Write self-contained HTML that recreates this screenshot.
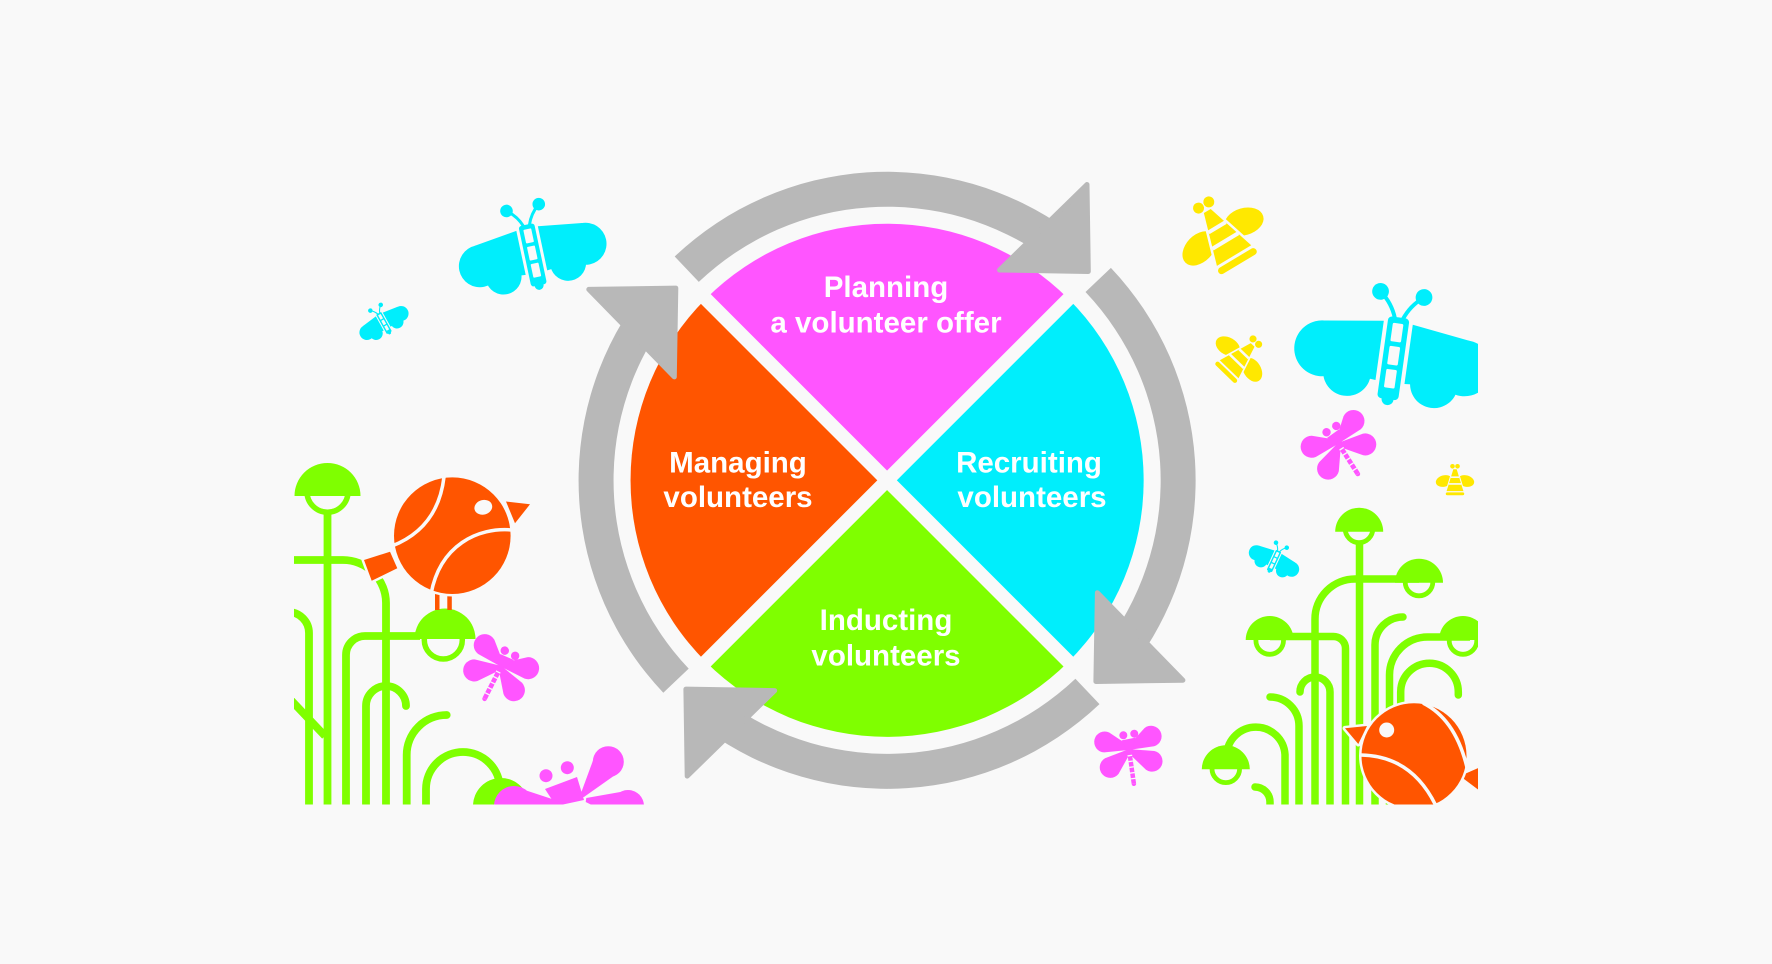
<!DOCTYPE html>
<html><head><meta charset="utf-8">
<style>
html,body{margin:0;padding:0;background:#f9f9f9;}
svg{display:block;}
.t{font-family:"Liberation Sans",Arial,sans-serif;font-weight:700;font-size:29.5px;fill:#ffffff;text-anchor:middle;}
</style></head>
<body>
<svg xmlns="http://www.w3.org/2000/svg" width="1772" height="964" viewBox="0 0 1772 964">
<defs>
<clipPath id="cl"><rect x="294" y="0" width="1184" height="804.5"/></clipPath>

<g id="bf" fill="#00eefc">
<path d="M-11,-27 L-55,-21 L-58,14 L-11,18 Z M11,-27 L55,-21 L58,14 L11,18 Z"/>
<circle cx="-54" cy="0" r="21"/><circle cx="-33" cy="15" r="18"/>
<circle cx="54" cy="0" r="21"/><circle cx="33" cy="15" r="18"/>
<rect x="-8" y="-31" width="16" height="62" rx="3"/>
<circle cx="0" cy="31" r="4.5"/>
<rect x="-4" y="-26.5" width="8" height="14" rx="1" fill="#f9f9f9"/>
<rect x="-4" y="-9" width="8" height="14" rx="1" fill="#f9f9f9"/>
<rect x="-4" y="8.5" width="8" height="14" rx="1" fill="#f9f9f9"/>
<path d="M-3,-30 Q-7,-41 -16,-48 M3,-30 Q7,-41 16,-48" fill="none" stroke="#00eefc" stroke-width="3"/>
<circle cx="-16.5" cy="-48.5" r="6.3"/><circle cx="16.5" cy="-48.5" r="6.3"/>
</g>

<g id="bee">
<g fill="#ffe800">
<ellipse cx="-26" cy="0" rx="20" ry="13.5" transform="rotate(-15 -26 0)"/>
<ellipse cx="26" cy="0" rx="20" ry="13.5" transform="rotate(15 26 0)"/>
<path d="M-4,-28 L4,-28 L20,24 L-20,24 Z" stroke="#f9f9f9" stroke-width="5" stroke-linejoin="round" paint-order="stroke"/>
<rect x="-22" y="27" width="44" height="7" rx="3.5" stroke="#f9f9f9" stroke-width="4" paint-order="stroke"/>
<circle cx="-6" cy="-35" r="5.5"/><circle cx="6" cy="-35" r="5.5"/>
</g>
<path d="M-10,-9 H10 M-15,7 H15" stroke="#f9f9f9" stroke-width="4"/>
</g>

<g id="df" fill="#ff55ff">
<path d="M0,-2 L23,-10.3 A10.5,10.5 0 1 1 23,10.3 L0,2 Z" transform="rotate(197)"/>
<path d="M0,-2 L23,-10.3 A10.5,10.5 0 1 1 23,10.3 L0,2 Z" transform="translate(0,3) rotate(142)"/>
<path d="M0,-2 L23,-10.3 A10.5,10.5 0 1 1 23,10.3 L0,2 Z" transform="rotate(-25)"/>
<path d="M0,-2 L23,-10.3 A10.5,10.5 0 1 1 23,10.3 L0,2 Z" transform="translate(0,3) rotate(27)"/>
<circle cx="-5" cy="-13" r="4"/><circle cx="6" cy="-14" r="4"/>
<path d="M-7,-8 L7,-10 L3,4 L-2,4 Z"/>
<path d="M0,2 L3,36" stroke="#ff55ff" stroke-width="4.5" stroke-linecap="round" fill="none"/>
<path d="M0.4,7 L3,36" stroke="#f9f9f9" stroke-width="4.7" stroke-dasharray="1.3 4.5" fill="none"/>
</g>

<path id="sh" d="M674.7,256.5 A308.5,308.5 0 0 1 1068.4,230.7 L1047.9,259 A273.5,273.5 0 0 0 698.8,281.9 Z" fill="#b8b8b8"/>
<polygon id="hd" points="1087,184.5 1088.3,271.5 999.5,270" fill="#b8b8b8" stroke="#b8b8b8" stroke-width="5" stroke-linejoin="round"/>
</defs>

<rect width="1772" height="964" fill="#f9f9f9"/>

<g clip-path="url(#cl)">
<!-- LEFT PLANTS -->
<g fill="none" stroke="#7fff00" stroke-width="7.8">
<path d="M327.5,513 V806"/>
<path d="M288,560 H343 A43,43 0 0 1 386,603 V806"/>
<path d="M346,806 V655 A19,19 0 0 1 365,636 H420"/>
<path d="M288,612 A21,21 0 0 1 309,633 V806"/>
<path d="M288,697 L325,736"/>
<path d="M366,806 V706 A20,20 0 0 1 406,706" stroke-linecap="round"/>
<path d="M446.7,715 A40,40 0 0 0 406.7,755 V806" stroke-linecap="round"/>
<path d="M426,806 V789 A37,37 0 0 1 500,789"/>
<circle cx="327.5" cy="491.7" r="20.5" stroke-width="5.5"/>
<circle cx="443.3" cy="640" r="19" stroke-width="5.5"/>
</g>
<g fill="#7fff00">
<path d="M294.5,496 A33,33 0 0 1 360.5,496 Z"/>
<path d="M414.5,639 A30.5,30.5 0 0 1 475.5,639 Z"/>
<path d="M473,806 A28,28 0 0 1 529,806 Z"/>
</g>

<!-- RIGHT PLANTS -->
<g fill="none" stroke="#7fff00" stroke-width="7.5">
<path d="M1359.5,543 V806"/>
<path d="M1315,806 V619 A40,40 0 0 1 1355,579 H1419"/>
<path d="M1270,636.5 H1333.5 A12,12 0 0 1 1345.5,648.5 V806"/>
<path d="M1389.5,806 V675 A38,38 0 0 1 1427.5,637 H1470"/>
<path d="M1403,617 A28,28 0 0 0 1375,645 V806" stroke-linecap="round"/>
<path d="M1300,692 A15,15 0 0 1 1330,692 V806" stroke-linecap="round"/>
<path d="M1270,697 A29,29 0 0 1 1299,726 V806" stroke-linecap="round"/>
<path d="M1226.7,762 V754.6 A29.2,29.2 0 0 1 1285,754.6 V806"/>
<path d="M1255,787 A15,15 0 0 1 1270,802 V806" stroke-linecap="round"/>
<path d="M1400.7,806 V692 A28.8,28.8 0 0 1 1458.3,692 V695" stroke-linecap="round"/>
<g stroke-width="4.8">
<circle cx="1359" cy="528.8" r="13.8"/>
<circle cx="1419" cy="582" r="13.8"/>
<circle cx="1269.7" cy="640.5" r="13.8"/>
<circle cx="1463" cy="640.5" r="13.8"/>
<circle cx="1225.8" cy="768.8" r="13.8"/>
</g>
</g>
<g fill="#7fff00">
<path d="M1335.2,531.7 A24,24 0 0 1 1383.2,531.7 Z"/>
<path d="M1395,582.7 A24,24 0 0 1 1443,582.7 Z"/>
<path d="M1245.7,640 A24,24 0 0 1 1293.7,640 Z"/>
<path d="M1439,640 A24,24 0 0 1 1487,640 Z"/>
<path d="M1201.8,769.3 A24,24 0 0 1 1249.8,769.3 Z"/>
</g>

<!-- LEFT BIRD -->
<g fill="#ff5500" stroke="#f9f9f9" stroke-width="5" stroke-linejoin="round" paint-order="stroke">
<polygon points="364,560 390,551.7 397.3,568.3 371.7,580.7"/>
<polygon points="506,501.5 530,504.3 515,523.3"/>
<rect x="435" y="585" width="4.5" height="25" stroke="none"/>
<rect x="447.3" y="585" width="4.5" height="25" stroke="none"/>
<circle cx="452.3" cy="535.7" r="58.3"/>
</g>
<ellipse cx="483.3" cy="507.3" rx="9" ry="7.3" transform="rotate(-15 483.3 507.3)" fill="#f9f9f9"/>
<g fill="none" stroke="#f9f9f9" stroke-width="3.5">
<path d="M444,477 Q438,528 392,546"/>
<path d="M512,530 C478,527 440,545 431,594"/>
</g>

<!-- RIGHT BIRD -->
<g fill="#ff5500" stroke="#f9f9f9" stroke-width="5" stroke-linejoin="round" paint-order="stroke">
<polygon points="1460,776 1492,762 1492,800"/>
<polygon points="1345,728.3 1367,726 1358.3,744"/>
<circle cx="1414" cy="755.8" r="52.5"/>
</g>
<circle cx="1386.7" cy="730" r="7.5" fill="#f9f9f9"/>
<g fill="none" stroke="#f9f9f9" stroke-width="3.5">
<path d="M1423,703 Q1457,720 1468,772"/>
<path d="M1361,755 Q1412,756 1436,806"/>
</g>

<!-- BOTTOM-LEFT BIG PINK -->
<g fill="#ff55ff">
<circle cx="546" cy="775.7" r="6.5"/>
<circle cx="567.3" cy="767.7" r="6.5"/>
<polygon points="545,789 577,777 584,800 556,806"/>
<polygon points="583.6,797.2 580.4,794.8 596,752.3 620.6,771.1"/>
<circle cx="608.3" cy="761.7" r="15.5"/>
<polygon points="586.3,798 585.7,802 625.8,821.8 630.2,790.2"/>
<circle cx="628" cy="806" r="16"/>
<polygon points="558.1,801 557.9,805 515.4,826 512.6,786"/>
<circle cx="514" cy="806" r="20"/>
</g>

<!-- BUTTERFLIES -->
<use href="#bf" transform="translate(532.7,255) rotate(-12)"/>
<use href="#bf" transform="translate(384,323) rotate(-29) scale(0.36)"/>
<use href="#bf" transform="translate(1393.3,358.3) rotate(8) scale(1.33)"/>
<use href="#bf" transform="translate(1274,561) rotate(25) scale(0.36)"/>

<!-- BEES -->
<use href="#bee" transform="translate(1221.7,235) rotate(-31)"/>
<use href="#bee" transform="translate(1240,358) rotate(44) scale(0.65)"/>
<use href="#bee" transform="translate(1455,481) scale(0.42)"/>

<!-- DRAGONFLIES -->
<use href="#df" transform="translate(502,665) rotate(32) scale(1.05)"/>
<use href="#df" transform="translate(1129,748) rotate(-3)"/>
<use href="#df" transform="translate(1337.5,441.9) rotate(-27.6) scale(1.05)"/>
</g>

<!-- PIE -->
<path d="M887.1,480.3 L705.7,298.9 A256.5,256.5 0 0 1 1068.5,298.9 Z" fill="#ff55ff"/>
<path d="M887.1,480.3 L1068.5,298.9 A256.5,256.5 0 0 1 1068.5,661.7 Z" fill="#00eefc"/>
<path d="M887.1,480.3 L1068.5,661.7 A256.5,256.5 0 0 1 705.7,661.7 Z" fill="#7fff00"/>
<path d="M887.1,480.3 L705.7,661.7 A256.5,256.5 0 0 1 705.7,298.9 Z" fill="#ff5500"/>
<path d="M701.8,295 L1072.4,665.6 M1072.4,295 L701.8,665.6" stroke="#f9f9f9" stroke-width="13.8"/>

<!-- ARROWS -->
<use href="#sh"/>
<use href="#hd"/>
<use href="#sh" transform="rotate(90 887.1 480.3)"/>
<use href="#hd" transform="rotate(90 887.1 480.3)"/>
<use href="#sh" transform="rotate(180 887.1 480.3)"/>
<use href="#hd" transform="rotate(180 887.1 480.3)"/>
<use href="#sh" transform="rotate(270 887.1 480.3)"/>
<g transform="translate(-2.5,9)"><use href="#hd" transform="rotate(270 887.1 480.3)"/></g>

<!-- LABELS -->
<text class="t" x="886" y="297">Planning</text>
<text class="t" x="886" y="332.4">a volunteer offer</text>
<text class="t" x="738" y="472.5">Managing</text>
<text class="t" x="738" y="507">volunteers</text>
<text class="t" x="1029" y="472.5">Recruiting</text>
<text class="t" x="1032" y="507">volunteers</text>
<text class="t" x="886" y="630">Inducting</text>
<text class="t" x="886" y="665.4">volunteers</text>
</svg>
</body></html>
